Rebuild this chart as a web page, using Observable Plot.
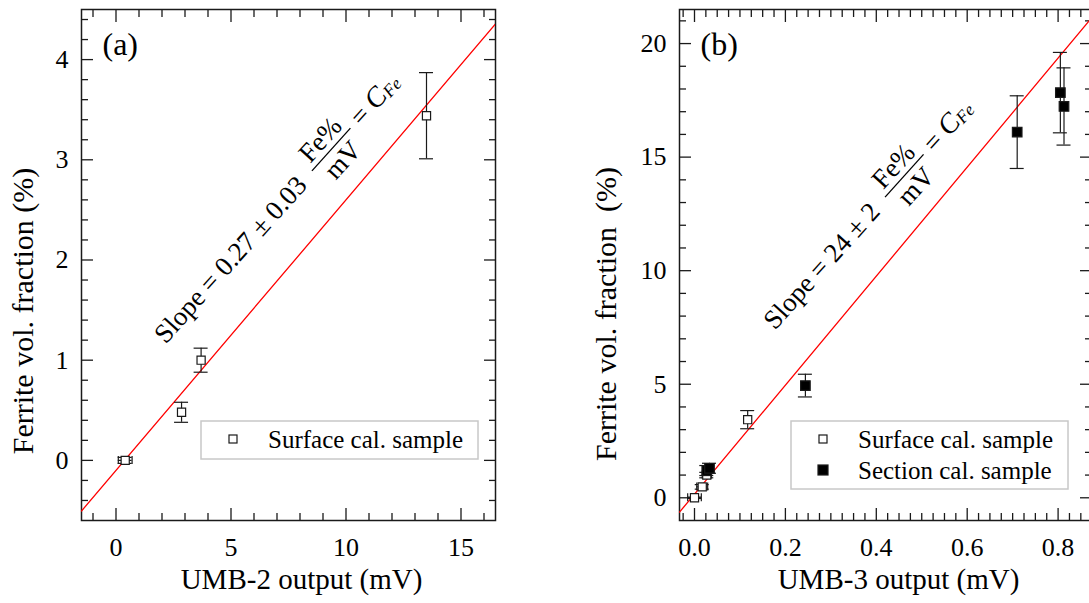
<!DOCTYPE html>
<html><head><meta charset="utf-8">
<script src="https://cdn.jsdelivr.net/npm/d3@7"></script>
<script src="https://cdn.jsdelivr.net/npm/@observablehq/plot@0.6"></script>
<style>
html,body{margin:0;padding:0;background:#fff;overflow:hidden;}
#wrap{display:flex;width:1089px;height:603px;overflow:hidden;}
#wrap svg{flex:0 0 auto;display:block;}
</style></head><body><div id="wrap"></div>
<script>
// ---------- Panel (a): UMB-2 ----------
const aSurfX    = [0.4, 2.85, 3.7, 13.5];
const aSurfY    = [0.0, 0.48, 1.0, 3.44];
const aSurfXErr = [0.3, 0, 0, 0];
const aSurfYErr = [0.03, 0.1, 0.12, 0.43];
const aXTicks = [0, 5, 10, 15];
const aYTicks = [0, 1, 2, 3, 4];
const aXMinor = [-1, 1, 2, 3, 4, 6, 7, 8, 9, 11, 12, 13, 14, 16];
const aYMinor = [-0.4, -0.2, 0.2, 0.4, 0.6, 0.8, 1.2, 1.4, 1.6, 1.8, 2.2, 2.4, 2.6, 2.8, 3.2, 3.4, 3.6, 3.8, 4.2, 4.4];

// ---------- Panel (b): UMB-3 ----------
const bSurfX    = [0.0, 0.017, 0.027, 0.117];
const bSurfY    = [0.0, 0.48, 1.0, 3.44];
const bSurfXErr = [0.015, 0.012, 0.01, 0];
const bSurfYErr = [0.03, 0.1, 0.12, 0.4];
const bSectX    = [0.027, 0.033, 0.244, 0.710, 0.805, 0.813];
const bSectY    = [1.2, 1.3, 4.94, 16.1, 17.84, 17.23];
const bSectXErr = [0.006, 0.006, 0, 0, 0, 0];
const bSectYErr = [0.22, 0.22, 0.5, 1.6, 1.77, 1.7];
const bXTicks = [0, 0.2, 0.4, 0.6, 0.8];
const bYTicks = [0, 5, 10, 15, 20];
const bXMinor = [-0.025, 0.025, 0.05, 0.075, 0.1, 0.125, 0.15, 0.175, 0.225, 0.25, 0.275, 0.3, 0.325, 0.35, 0.375,
  0.425, 0.45, 0.475, 0.5, 0.525, 0.55, 0.575, 0.625, 0.65, 0.675, 0.7, 0.725, 0.75, 0.775, 0.825, 0.85];
const bYMinor = [1, 2, 3, 4, 6, 7, 8, 9, 11, 12, 13, 14, 16, 17, 18, 19, 21];

// ---------- Linear fits ----------
const fitSlope     = [0.27, 24];
const fitIntercept = [-0.1, 0.16];
const slopeLabels  = ["Slope = 0.27 \u00b1 0.03", "Slope = 24 \u00b1 2"];
const slopeAnchorX = [2.18, 0.178];
const slopeAnchorY = [1.15, 7.33];

const FONT = "'Liberation Serif','Times New Roman',serif";
const INK = "#1a1a1a";

function rows(xs, ys, xe, ye) { return xs.map((x, i) => ({x, y: ys[i], xe: xe[i], ye: ye[i]})); }

function errMarks(data) {
  const v = data.filter(d => d.ye > 0);
  const h = data.filter(d => d.xe > 0);
  const vc = v.flatMap(d => [{x: d.x, y: d.y - d.ye}, {x: d.x, y: d.y + d.ye}]);
  const hc = h.flatMap(d => [{x: d.x - d.xe, y: d.y}, {x: d.x + d.xe, y: d.y}]);
  const st = {stroke: INK, strokeWidth: 1.2};
  return [
    Plot.ruleX(v, {x: "x", y1: d => d.y - d.ye, y2: d => d.y + d.ye, ...st}),
    Plot.ruleY(vc, {y: "y", x1: "x", x2: "x", insetLeft: -7, insetRight: -7, ...st}),
    Plot.ruleY(h, {y: "y", x1: d => d.x - d.xe, x2: d => d.x + d.xe, ...st}),
    Plot.ruleX(hc, {x: "x", y1: "y", y2: "y", insetTop: -4, insetBottom: -4, ...st})
  ];
}

function tickMarks(xMaj, xMin, yMaj, yMin) {
  const st = {stroke: INK, strokeWidth: 1.3, fill: "none", label: null};
  return [
    Plot.axisX(xMaj, {anchor: "bottom", tickSize: -12, ...st}),
    Plot.axisX(xMin, {anchor: "bottom", tickSize: -7, ...st}),
    Plot.axisX(xMaj, {anchor: "top", tickSize: -12, ...st}),
    Plot.axisX(xMin, {anchor: "top", tickSize: -7, ...st}),
    Plot.axisY(yMaj, {anchor: "left", tickSize: -12, ...st}),
    Plot.axisY(yMin, {anchor: "left", tickSize: -7, ...st}),
    Plot.axisY(yMaj, {anchor: "right", tickSize: -12, ...st}),
    Plot.axisY(yMin, {anchor: "right", tickSize: -7, ...st})
  ];
}

function scaleFn(plot, name) {
  const s = plot.scale(name);
  if (s && typeof s.apply === "function") return v => s.apply(v);
  return d3.scaleLinear(s.domain, s.range);
}

function addSlope(plot, k) {
  const sx = scaleFn(plot, "x"), sy = scaleFn(plot, "y");
  const fs = 27;
  const g = d3.select(plot).append("g")
    .attr("transform", `translate(${sx(slopeAnchorX[k])},${sy(slopeAnchorY[k])}) rotate(-48)`)
    .attr("font-family", FONT).attr("font-size", fs).attr("fill", "black")
    .attr("text-anchor", "start");
  const t1 = g.append("text").attr("x", 0).attr("y", 0).text(slopeLabels[k]);
  const L = t1.node().getComputedTextLength();
  const f0 = L + 14;
  const num = g.append("text").text("Fe%").attr("text-anchor", "middle");
  const den = g.append("text").text("mV").attr("text-anchor", "middle");
  const w = Math.max(num.node().getComputedTextLength(), den.node().getComputedTextLength()) + 8;
  num.attr("x", f0 + w / 2).attr("y", -fs * 0.5);
  den.attr("x", f0 + w / 2).attr("y", fs * 0.62);
  g.append("line").attr("x1", f0).attr("x2", f0 + w)
    .attr("y1", -fs * 0.28).attr("y2", -fs * 0.28)
    .attr("stroke", "black").attr("stroke-width", 1.3);
  const eq = g.append("text").attr("x", f0 + w + 8).attr("y", 0);
  eq.append("tspan").text("= ");
  eq.append("tspan").text("C").attr("font-style", "italic").attr("font-size", fs * 1.05);
  eq.append("tspan").text("Fe").attr("font-style", "italic").attr("font-size", fs * 0.65).attr("dy", 2);
}

function addYTitle(plot, text, x, y) {
  d3.select(plot).append("text")
    .attr("transform", `translate(${x},${y}) rotate(-90)`)
    .attr("text-anchor", "middle").attr("font-family", FONT).attr("font-size", 30)
    .attr("fill", "black").text(text);
}

function addLegend(plot, x, y, w, entries) {
  const h = 8 + entries.length * 30;
  const g = d3.select(plot).append("g").attr("font-family", FONT).attr("font-size", 25)
    .attr("text-anchor", "start");
  g.append("rect").attr("x", x).attr("y", y).attr("width", w).attr("height", h)
    .attr("fill", "white").attr("stroke", "#c8c8c8").attr("stroke-width", 1.5);
  entries.forEach((e, i) => {
    const cy = y + 18 + i * 31;
    const s = e.filled ? 10 : 8;
    g.append("rect").attr("x", x + 32 - s / 2).attr("y", cy - s / 2).attr("width", s).attr("height", s)
      .attr("fill", e.filled ? "black" : "white").attr("stroke", INK).attr("stroke-width", 1.2);
    g.append("text").attr("x", x + 67).attr("y", cy + 8.5).attr("fill", "black").text(e.label);
  });
}

function panel(o) {
  const fitPts = o.xDomain.map(x => ({x, y: fitSlope[o.k] * x + fitIntercept[o.k]}));
  const marks = [
    Plot.frame({stroke: INK, strokeWidth: 1.5}),
    ...tickMarks(o.xMaj, o.xMin, o.yMaj, o.yMin),
    Plot.axisX(o.xMaj, {anchor: "bottom", tickSize: 0, tickPadding: 17, fontSize: 26, label: null, tickFormat: o.xFmt, fill: "black"}),
    Plot.axisY(o.yMaj, {anchor: "left", tickSize: 0, tickPadding: 13, fontSize: 26, label: null, tickFormat: o.yFmt, fill: "black"}),
    Plot.text([o.xTitle], {frameAnchor: "bottom", dx: 13, dy: 68, lineAnchor: "bottom", fontSize: 29, fill: "black"}),
    Plot.text([o.tag], {frameAnchor: "top-left", dx: 21, dy: 23, textAnchor: "start", lineAnchor: "top", fontSize: 32, fill: "black"}),
    Plot.line(fitPts, {x: "x", y: "y", stroke: "#ff0000", strokeWidth: 1.3, clip: true}),
  ];
  for (const s of o.series) {
    marks.push(...errMarks(s.data));
    marks.push(Plot.dot(s.data, {x: "x", y: "y", symbol: "square", r: s.filled ? 5.4 : 4.6,
      fill: s.filled ? "black" : "white", stroke: INK, strokeWidth: 1.2}));
  }
  return Plot.plot({
    width: o.width, height: 603,
    marginTop: 9, marginBottom: 83, marginLeft: o.marginLeft, marginRight: o.marginRight,
    x: {domain: o.xDomain},
    y: {domain: o.yDomain},
    style: {fontFamily: FONT, fontSize: "26px", color: "black", background: "white", overflow: "visible"},
    marks
  });
}

const wrap = document.getElementById("wrap");

const pa = panel({
  k: 0, width: 545, marginLeft: 81, marginRight: 50,
  xDomain: [-1.5, 16.5], yDomain: [-0.6, 4.5],
  xMaj: aXTicks, xMin: aXMinor, yMaj: aYTicks, yMin: aYMinor,
  xFmt: d3.format("d"), yFmt: d3.format("d"),
  xTitle: "UMB-2 output (mV)", tag: "(a)",
  series: [{data: rows(aSurfX, aSurfY, aSurfXErr, aSurfYErr), filled: false}]
});
wrap.appendChild(pa);
addYTitle(pa, "Ferrite vol. fraction (%)", 33, 311);
addSlope(pa, 0);
addLegend(pa, 201, 421, 277, [{label: "Surface cal. sample", filled: false}]);

const pb = panel({
  k: 1, width: 548, marginLeft: 134, marginRight: 2,
  xDomain: [-0.033, 0.8735], yDomain: [-1, 21.5],
  xMaj: bXTicks, xMin: bXMinor, yMaj: bYTicks, yMin: bYMinor,
  xFmt: d3.format(".1f"), yFmt: d3.format("d"),
  xTitle: "UMB-3 output (mV)", tag: "(b)",
  series: [
    {data: rows(bSurfX, bSurfY, bSurfXErr, bSurfYErr), filled: false},
    {data: rows(bSectX, bSectY, bSectXErr, bSectYErr), filled: true}
  ]
});
wrap.appendChild(pb);
addYTitle(pb, "Ferrite vol. fraction\u00a0\u00a0(%)", 71, 314);
addSlope(pb, 1);
addLegend(pb, 246, 421, 277, [{label: "Surface cal. sample", filled: false}, {label: "Section cal. sample", filled: true}]);
</script></body></html>
